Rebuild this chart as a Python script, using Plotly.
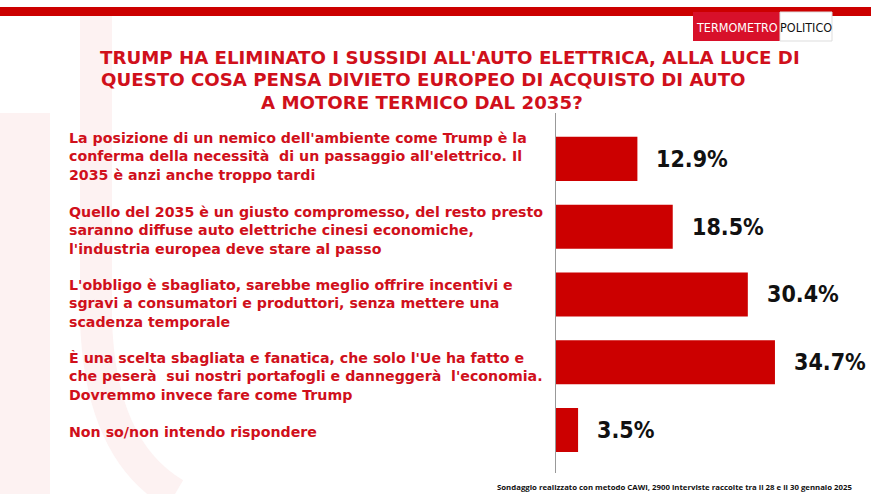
import plotly.graph_objects as go

categories = [
    "La posizione di un nemico dell'ambiente come Trump è la<br>conferma della necessità  di un passaggio all'elettrico. Il<br>2035 è anzi anche troppo tardi",
    "Quello del 2035 è un giusto compromesso, del resto presto<br>saranno diffuse auto elettriche cinesi economiche,<br>l'industria europea deve stare al passo",
    "L'obbligo è sbagliato, sarebbe meglio offrire incentivi e<br>sgravi a consumatori e produttori, senza mettere una<br>scadenza temporale",
    "È una scelta sbagliata e fanatica, che solo l'Ue ha fatto e<br>che peserà  sui nostri portafogli e danneggerà  l'economia.<br>Dovremmo invece fare come Trump",
    "Non so/non intendo rispondere",
]
values = [12.9, 18.5, 30.4, 34.7, 3.5]
value_labels = ["12.9%", "18.5%", "30.4%", "34.7%", "3.5%"]
title_lines = [
    "TRUMP HA ELIMINATO I SUSSIDI ALL'AUTO ELETTRICA, ALLA LUCE DI",
    "QUESTO COSA PENSA DIVIETO EUROPEO DI ACQUISTO DI AUTO",
    "A MOTORE TERMICO DAL 2035?",
]
footer = "Sondaggio realizzato con metodo CAWI, 2900 interviste raccolte tra il 28 e il 30 gennaio 2025"

W, H = 871, 494
RED = "#cc0000"
TXT_RED = "#d0101b"
NARROW = "DejaVu Sans Condensed"
WIDE = "DejaVu Sans"

def px(x):
    return x / W

def py(y):
    return 1 - y / H

idx = list(range(len(values)))

fig = go.Figure()
fig.add_trace(go.Bar(
    x=values, y=idx, orientation="h",
    marker=dict(color=RED, line=dict(width=0)),
    width=0.65, hoverinfo="skip",
))

shapes = []
shapes.append(dict(type="rect", xref="paper", yref="paper",
                   x0=0, x1=px(50), y0=0, y1=py(113),
                   fillcolor="#fdf2f2", line=dict(width=0), layer="below"))
shapes.append(dict(type="path", xref="paper", yref="paper",
                   path=f"M {px(96)} {py(16)} L {px(96)} {py(320)} Q {px(100)} {py(450)} {px(175)} {py(494)}",
                   line=dict(color="#fdf2f2", width=32), layer="below"))
shapes.append(dict(type="rect", xref="paper", yref="paper",
                   x0=0, x1=1, y0=py(16), y1=py(7),
                   fillcolor=RED, line=dict(width=0)))
shapes.append(dict(type="rect", xref="paper", yref="paper",
                   x0=px(693), x1=px(780), y0=py(41), y1=py(12),
                   fillcolor="#d8102a", line=dict(width=0)))
shapes.append(dict(type="rect", xref="paper", yref="paper",
                   x0=px(780), x1=px(832), y0=py(41), y1=py(12),
                   fillcolor="white", line=dict(color="#dddddd", width=1)))

annotations = []
annotations.append(dict(text="TERMOMETRO", x=px(736.5), y=py(27), xref="paper", yref="paper",
                        showarrow=False, xanchor="center", yanchor="middle", borderpad=0,
                        font=dict(family=NARROW, size=12.5, color="white")))
annotations.append(dict(text="POLITICO", x=px(806), y=py(27), xref="paper", yref="paper",
                        showarrow=False, xanchor="center", yanchor="middle", borderpad=0,
                        font=dict(family=NARROW, size=12.5, color="#111111")))

title_pos = [(450, 57), (423, 80), (422, 102)]
for line, (tx, ty) in zip(title_lines, title_pos):
    annotations.append(dict(text=f"<b>{line}</b>", x=px(tx), y=py(ty), xref="paper", yref="paper",
                            showarrow=False, xanchor="center", yanchor="middle", borderpad=0,
                            font=dict(family=WIDE, size=18.2, color=TXT_RED)))

label_centers = [156.6, 230.6, 303.6, 376.6, 432]
for lab, cy in zip(categories, label_centers):
    annotations.append(dict(text=f"<b>{lab}</b>", x=px(68), y=py(cy),
                            xref="paper", yref="paper", borderpad=0,
                            showarrow=False, xanchor="left", yanchor="middle", align="left",
                            font=dict(family=WIDE, size=14.2, color=TXT_RED)))

for v, i, t in zip(values, idx, value_labels):
    annotations.append(dict(text=f"<b>{t}</b>", x=v, y=i, xref="x", yref="y",
                            showarrow=False, xanchor="left", yanchor="middle", xshift=17,
                            font=dict(family=NARROW, size=23, color="#111111")))

annotations.append(dict(text=f"<b>{footer}</b>", x=px(853), y=py(487), xref="paper", yref="paper",
                        showarrow=False, xanchor="right", yanchor="middle", borderpad=0,
                        font=dict(family="Open Sans", size=7.8, color="#111111")))

fig.update_layout(
    width=W, height=H,
    margin=dict(l=0, r=0, t=0, b=0),
    paper_bgcolor="white", plot_bgcolor="rgba(0,0,0,0)",
    showlegend=False,
    xaxis=dict(domain=[556 / W, 1], range=[0, 315 / 6.31], visible=False, fixedrange=True),
    yaxis=dict(domain=[21 / H, 381 / H], range=[4.635, -0.677], showline=True,
               linecolor="#999999", linewidth=1, showticklabels=False, showgrid=False,
               zeroline=False, ticks="", fixedrange=True),
    shapes=shapes, annotations=annotations,
)

fig.write_html("out.html", config={"displayModeBar": False},
               post_script="document.body.style.margin='0';")
